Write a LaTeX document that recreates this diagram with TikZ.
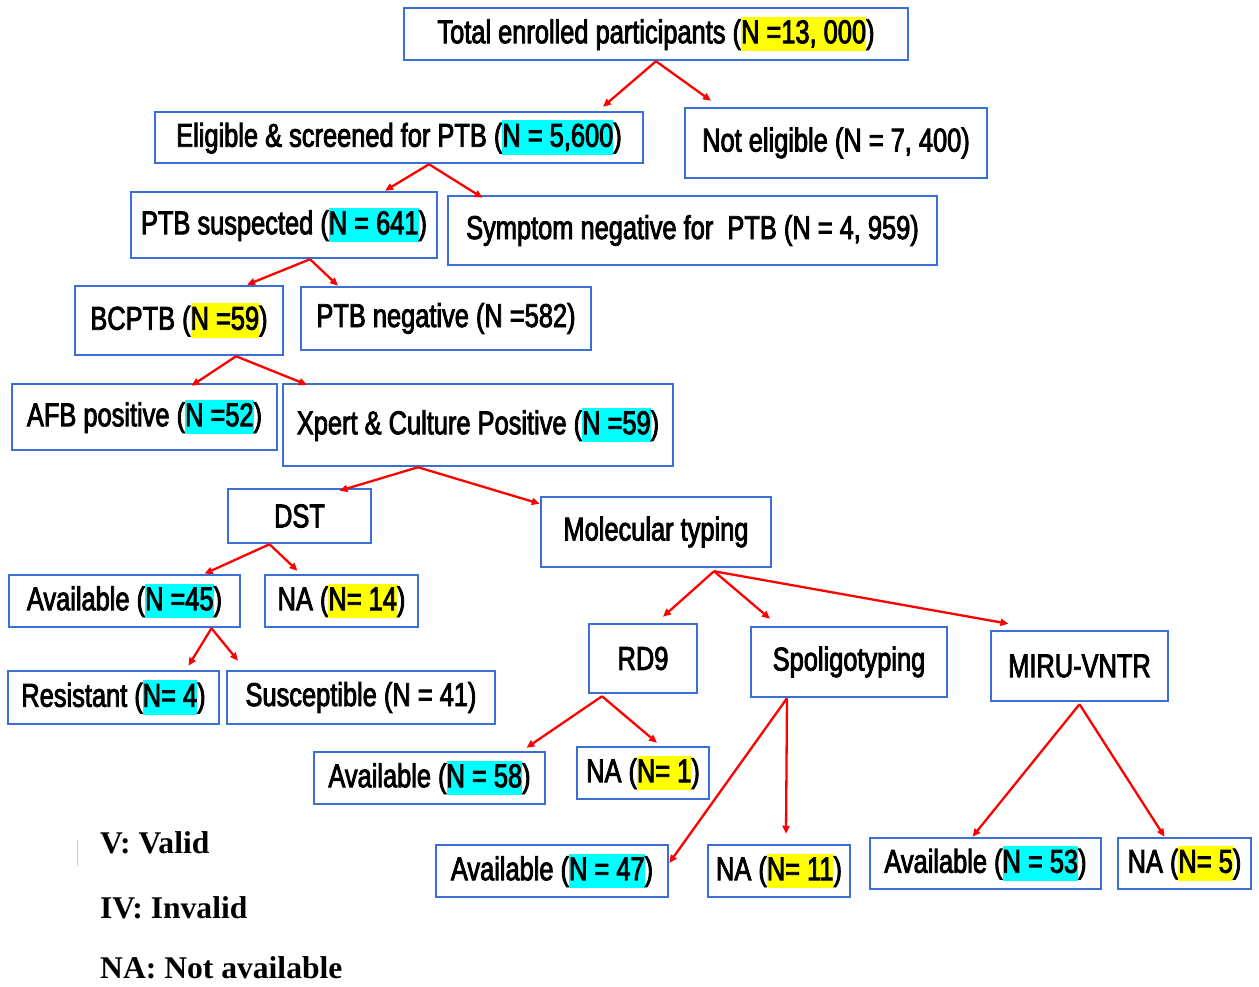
\documentclass[tikz,border=0pt]{standalone}
\usepackage{fontspec}
\usetikzlibrary{arrows.meta}
\newfontfamily\cajafont[FakeStretch=0.77,FakeBold=2.5]{Liberation Sans}
\newfontfamily\leyfont{Liberation Serif}
\definecolor{azulcaja}{RGB}{58,112,214}
\definecolor{amarillo}{RGB}{255,255,0}
\definecolor{turquesa}{RGB}{0,255,255}
\newcommand{\resY}[1]{{\setlength{\fboxsep}{0pt}\colorbox{amarillo}{\rule[-0.24em]{0pt}{1.04em}#1}}}
\newcommand{\resC}[1]{{\setlength{\fboxsep}{0pt}\colorbox{turquesa}{\rule[-0.24em]{0pt}{1.04em}#1}}}
\tikzset{
  caja/.style={draw=azulcaja, line width=2.5pt, inner sep=0pt, fill=white,
    font=\cajafont\fontsize{33}{38}\selectfont},
  flecha/.style={draw=red, line width=2.3pt, -{Triangle[length=8pt,width=7pt]}},
  leyenda/.style={inner sep=0pt, anchor=base west,
    font=\leyfont\bfseries\fontsize{31.6}{36}\selectfont}
}
\begin{document}
\begin{tikzpicture}[x=1pt,y=-1pt]
        \useasboundingbox (0,0) rectangle (1259,987);
        % nivel 1
        \node[caja, minimum width=504pt, minimum height=52pt] (total) at (656,34) {Total enrolled participants (\resY{N =13, 000})};
        % nivel 2
        \node[caja, minimum width=488pt, minimum height=51pt] (eleg) at (399,137.5) {Eligible \& screened for PTB (\resC{N = 5,600})};
        \node[caja, minimum width=302pt, minimum height=70pt] (noeleg) at (836,143) {Not eligible (N = 7, 400)};
        % nivel 3
        \node[caja, minimum width=306pt, minimum height=66pt] (sosp) at (284,225) {PTB suspected (\resC{N = 641})};
        \node[caja, minimum width=489pt, minimum height=69pt] (sintneg) at (692.5,230.5) {Symptom negative for~~PTB (N = 4, 959)};
        % nivel 4
        \node[caja, minimum width=208pt, minimum height=69pt] (bcptb) at (179,320.5) {BCPTB (\resY{N =59})};
        \node[caja, minimum width=290pt, minimum height=63pt] (ptbneg) at (446,318.5) {PTB negative (N =582)};
        % nivel 5
        \node[caja, minimum width=265pt, minimum height=66pt] (afb) at (144.5,417) {AFB positive (\resC{N =52})};
        \node[caja, minimum width=390pt, minimum height=82pt] (xpert) at (478,425) {Xpert \& Culture Positive (\resC{N =59})};
        % DST y tipificacion
        \node[caja, minimum width=143pt, minimum height=54pt] (dst) at (299.5,516) {DST};
        \node[caja, minimum width=230pt, minimum height=70pt] (mol) at (656,532) {Molecular typing};
        \node[caja, minimum width=231pt, minimum height=52pt] (dstdisp) at (124.5,601) {Available (\resC{N =45})};
        \node[caja, minimum width=153pt, minimum height=52pt] (dstna) at (341.5,601) {NA (\resY{N= 14})};
        \node[caja, minimum width=211pt, minimum height=53pt] (resis) at (113.5,697.5) {Resistant (\resC{N= 4})};
        \node[caja, minimum width=268pt, minimum height=53pt] (sensib) at (361,697.5) {Susceptible (N = 41)};
        % metodos moleculares
        \node[caja, minimum width=108pt, minimum height=69pt] (rd) at (643,658.5) {RD9};
        \node[caja, minimum width=196pt, minimum height=70pt] (spol) at (849,662) {Spoligotyping};
        \node[caja, minimum width=177pt, minimum height=70pt] (miru) at (1079.5,666) {MIRU-VNTR};
        \node[caja, minimum width=231pt, minimum height=52pt] (rddisp) at (429.5,778) {Available (\resC{N = 58})};
        \node[caja, minimum width=132pt, minimum height=52pt] (rdna) at (643,773) {NA (\resY{N= 1})};
        \node[caja, minimum width=232pt, minimum height=52pt] (spoldisp) at (552,871) {Available (\resC{N = 47})};
        \node[caja, minimum width=142pt, minimum height=52pt] (spolna) at (779,871) {NA (\resY{N= 11})};
        \node[caja, minimum width=231pt, minimum height=51pt] (mirudisp) at (985.5,863.5) {Available (\resC{N = 53})};
        \node[caja, minimum width=133pt, minimum height=51pt] (miruna) at (1184.5,863.5) {NA (\resY{N= 5})};
        % flechas
        \draw[flecha] (total.south) -- ([xshift=204pt,yshift=4pt]eleg.north);
        \draw[flecha] (total.south) -- ([xshift=-125pt,yshift=6pt]noeleg.north);
        \draw[flecha] ([xshift=30pt]eleg.south) -- ([xshift=101pt]sosp.north);
        \draw[flecha] ([xshift=30pt]eleg.south) -- ([xshift=-210pt,yshift=-3pt]sintneg.north);
        \draw[flecha] ([xshift=26pt]sosp.south) -- ([xshift=68pt]bcptb.north);
        \draw[flecha] ([xshift=26pt]sosp.south) -- ([xshift=-108pt]ptbneg.north);
        \draw[flecha] ([xshift=57pt]bcptb.south) -- ([xshift=47pt,yshift=-3pt]afb.north);
        \draw[flecha] ([xshift=57pt]bcptb.south) -- ([xshift=-171pt,yshift=-2pt]xpert.north);
        \draw[flecha] ([xshift=-60pt]xpert.south) -- ([xshift=40pt,yshift=-3pt]dst.north);
        \draw[flecha] ([xshift=-60pt]xpert.south) -- ([yshift=-8pt]mol.north west);
        \draw[flecha] ([xshift=-30pt]dst.south) -- ([xshift=80pt]dstdisp.north);
        \draw[flecha] ([xshift=-30pt]dst.south) -- ([xshift=-44pt,yshift=3pt]dstna.north);
        \draw[flecha] ([xshift=58pt,yshift=-3pt]mol.south) -- ([xshift=20pt,yshift=6pt]rd.north);
        \draw[flecha] ([xshift=58pt,yshift=-3pt]mol.south) -- ([xshift=-79pt,yshift=7pt]spol.north);
        \draw[flecha] ([xshift=58pt,yshift=-3pt]mol.south) -- ([xshift=-71pt,yshift=6pt]miru.north);
        \draw[flecha] ([xshift=87pt]dstdisp.south) -- ([xshift=75pt,yshift=4pt]resis.north);
        \draw[flecha] ([xshift=87pt]dstdisp.south) -- ([xshift=-123pt,yshift=9pt]sensib.north);
        \draw[flecha] ([xshift=-41pt,yshift=-2pt]rd.south) -- ([xshift=97pt,yshift=3pt]rddisp.north);
        \draw[flecha] ([xshift=-41pt,yshift=-2pt]rd.south) -- ([xshift=14pt,yshift=3pt]rdna.north);
        \draw[flecha] ([xshift=-62pt]spol.south) -- ([yshift=8pt]spoldisp.east);
        \draw[flecha] ([xshift=-62pt]spol.south) -- ([xshift=7pt,yshift=10pt]spolna.north);
        \draw[flecha] ([yshift=-2pt]miru.south) -- ([xshift=-13pt]mirudisp.north);
        \draw[flecha] ([yshift=-2pt]miru.south) -- ([xshift=-20pt]miruna.north);
        % leyenda
        \draw[gray!40, line width=1pt] (77,840) -- (77,866);
        \node[leyenda] (ley1) at (100,853) {V: Valid};
        \node[leyenda] (ley2) at (100,918) {IV: Invalid};
        \node[leyenda] (ley3) at (100,978) {NA: Not available};
\end{tikzpicture}
\end{document}
